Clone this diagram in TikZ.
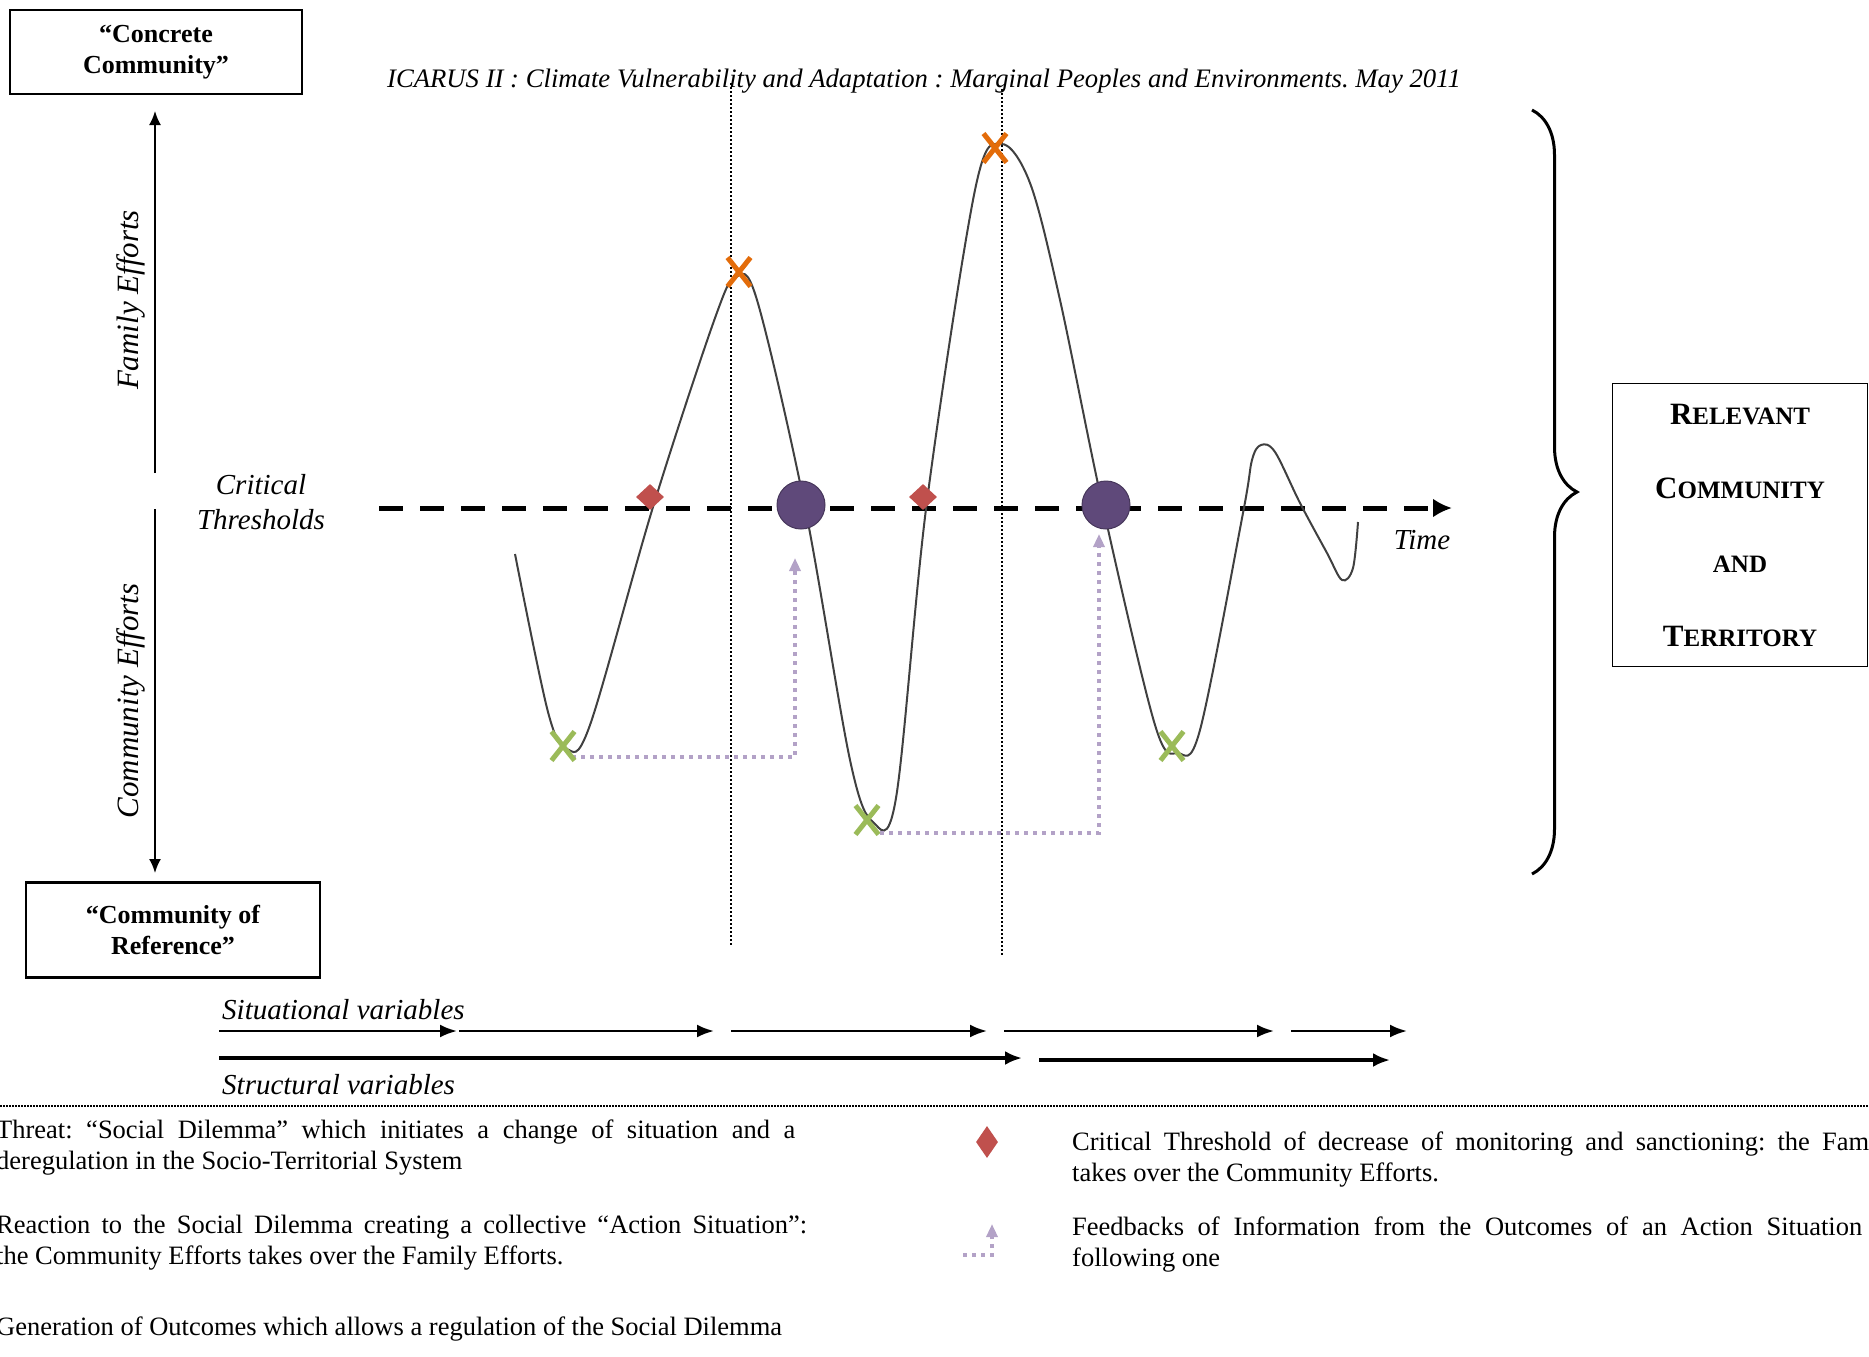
\documentclass[tikz,border=0pt]{standalone}
\usepackage{fontspec}
\setmainfont{Liberation Serif}
\usetikzlibrary{arrows.meta,shapes.geometric,shapes.misc,decorations.pathreplacing}

\definecolor{threatorange}{HTML}{E36C0A}
\definecolor{outcomegreen}{HTML}{9BBB59}
\definecolor{thresholdred}{HTML}{C0504D}
\definecolor{actionpurple}{HTML}{5F497A}
\definecolor{feedlilac}{HTML}{B3A2C7}

\newcommand{\smallcap}[2]{{\fontsize{31}{31}\selectfont #1}{\fontsize{25}{25}\selectfont #2}}
\frenchspacing

\begin{document}
\begin{tikzpicture}[x=1pt,y=-1pt,
  box/.style={draw,line width=2.5pt,align=center,inner sep=0,
    font=\bfseries\fontsize{26}{31}\selectfont},
  lbl/.style={inner sep=0,align=center,font=\itshape\fontsize{29}{35}\selectfont},
  legend/.style={anchor=base west,inner sep=0,font=\fontsize{26.5}{31}\selectfont},
  xmark/.style={cross out,draw=#1,line width=5pt,minimum width=18pt,minimum height=24pt,inner sep=0},
  diam/.style={diamond,fill=thresholdred,inner sep=0,minimum width=28pt,minimum height=26pt},
  hub/.style={circle,fill=actionpurple,draw=actionpurple!75!black,line width=1pt,minimum size=48pt,inner sep=0},
  feedback/.style={draw=feedlilac,line width=4pt,dash pattern=on 4pt off 5pt,
    -{Triangle[length=13pt,width=11pt]}},
  guide/.style={line width=1.5pt,dash pattern=on 1.5pt off 2.5pt},
  axisarrow/.style={line width=2pt,-{Latex[length=14pt,width=12pt]}},
  sitarrow/.style={line width=2.5pt,-{Latex[length=17pt,width=13pt]}},
  strarrow/.style={line width=4pt,-{Latex[length=17pt,width=14pt]}},
]
\useasboundingbox (0,0) rectangle (1869,1357);

% boxes on the left
\node[box,minimum width=292pt,minimum height=84pt] (concrete) at (156,52) {“Concrete\\Community”};
\node[box,minimum width=294pt,minimum height=95pt] (reference) at (173,930) {“Community of\\Reference”};

% the vertical axis
\coordinate (famlow) at (155,473);
\coordinate (famtop) at (155,111);
\coordinate (comtop) at (155,509);
\coordinate (comlow) at (155,873);
\draw[axisarrow] (famlow) -- (famtop);
\draw[axisarrow] (comtop) -- (comlow);
\node[lbl,rotate=90,font=\itshape\fontsize{31}{31}\selectfont] (family) at (131,300) {Family Efforts};
\node[lbl,rotate=90,font=\itshape\fontsize{31}{31}\selectfont] (community) at (131,701) {Community Efforts};
\node[lbl] (critical) at (261,502) {Critical\\Thresholds};

\node[lbl,font=\itshape\fontsize{26.7}{26.7}\selectfont] (title) at (924,81)
  {ICARUS II : Climate Vulnerability and Adaptation : Marginal Peoples and Environments. May 2011};

% time axis
\coordinate (tstart) at (379,508);
\coordinate (tend) at (1452,508);
\draw[line width=5pt,dash pattern=on 24pt off 17pt,-{Latex[length=19pt,width=19pt]}] (tstart) -- (tend);
\node[lbl] (time) at (1422,540) {Time};

% vertical guides
\draw[guide] (731,83) -- (731,945);
\draw[guide] (1002,89) -- (1002,956);

% the trajectory
\draw[line width=2pt,black!75] plot[smooth,tension=0.55] coordinates {
  (515,554) (548,712) (567,749) (590,725) (653,507) (715,318) (736,277) (757,300)
  (805,507) (850,760) (873,822) (896,798) (927,501) (975,190) (1001,144) (1030,183)
  (1060,300) (1103,507) (1155,725) (1178,753) (1200,730) (1243,513) (1252,460)
  (1261,445) (1275,452) (1300,503) (1327,553) (1342,580) (1353,568) (1358,522)};

% feedbacks
\coordinate (fbstart1) at (572,757);
\coordinate (fbend1) at (795,558);
\coordinate (fbstart2) at (880,833);
\coordinate (fbend2) at (1099,534);
\draw[feedback] (fbstart1) -| (fbend1);
\draw[feedback] (fbstart2) -| (fbend2);

% markers
\node[xmark=outcomegreen] (out1) at (563,746) {};
\node[xmark=outcomegreen] (out2) at (867,820) {};
\node[xmark=outcomegreen] (out3) at (1172,746) {};
\node[xmark=threatorange] (threat1) at (739,272) {};
\node[xmark=threatorange] (threat2) at (995,148) {};
\node[diam] (crit1) at (650,497) {};
\node[diam] (crit2) at (923,497) {};
\node[hub] (action1) at (801,505) {};
\node[hub] (action2) at (1106,505) {};

% brace and right box
\coordinate (bracetop) at (1532,110);
\coordinate (bracelow) at (1532,874);
\draw[decorate,decoration={brace,amplitude=45pt},line width=3pt] (bracetop) -- (bracelow);
\node[draw,line width=1.5pt,minimum width=255pt,minimum height=283pt,inner sep=0,
  align=center,font=\bfseries\fontsize{31}{74}\selectfont] (relevant) at (1740,525)
  {\smallcap{R}{ELEVANT}\\\smallcap{C}{OMMUNITY}\\\smallcap{}{AND}\\\smallcap{T}{ERRITORY}};

% variables
\node[lbl,anchor=west] (situational) at (222,1010) {Situational variables};
\node[lbl,anchor=west] (structural) at (222,1085) {Structural variables};
\foreach \a/\b in {219/457,459/714,731/987,1004/1274,1291/1407}
  \draw[sitarrow] (\a,1031) -- (\b,1031);
\draw[strarrow] (219,1058) -- (1022,1058);
\draw[strarrow] (1039,1060) -- (1390,1060);

\draw[line width=1.5pt,dash pattern=on 1.5pt off 1.5pt] (0,1106) -- (1869,1106);

% legend
\node[legend] (keythreat) at (-4,1138) {\makebox[799pt][s]{Threat: “Social Dilemma” which initiates a change of situation and a}};
\node[legend] (keythreatb) at (-4,1169) {deregulation in the Socio-Territorial System};
\node[legend] (keyreaction) at (-4,1233) {\makebox[811pt][s]{Reaction to the Social Dilemma creating a collective “Action Situation”:}};
\node[legend] (keyreactionb) at (-4,1264) {the Community Efforts takes over the Family Efforts.};
\node[legend] (keyoutcome) at (-4,1335) {Generation of Outcomes which allows a regulation of the Social Dilemma};

\node[diam,minimum width=22pt,minimum height=32pt] (keydiam) at (987,1142) {};
\node[legend] (keycrit) at (1072,1150) {\makebox[797pt][s]{Critical Threshold of decrease of monitoring and sanctioning: the Fam}};
\node[legend] (keycritb) at (1072,1181) {takes over the Community Efforts.};
\coordinate (keyfbstart) at (963,1255);
\coordinate (keyfbend) at (992,1224);
\draw[feedback] (keyfbstart) -| (keyfbend);
\node[legend] (keyfeed) at (1072,1235) {\makebox[790pt][s]{Feedbacks of Information from the Outcomes of an Action Situation}};
\node[legend] (keyfeedb) at (1072,1266) {following one};
\end{tikzpicture}
\end{document}
